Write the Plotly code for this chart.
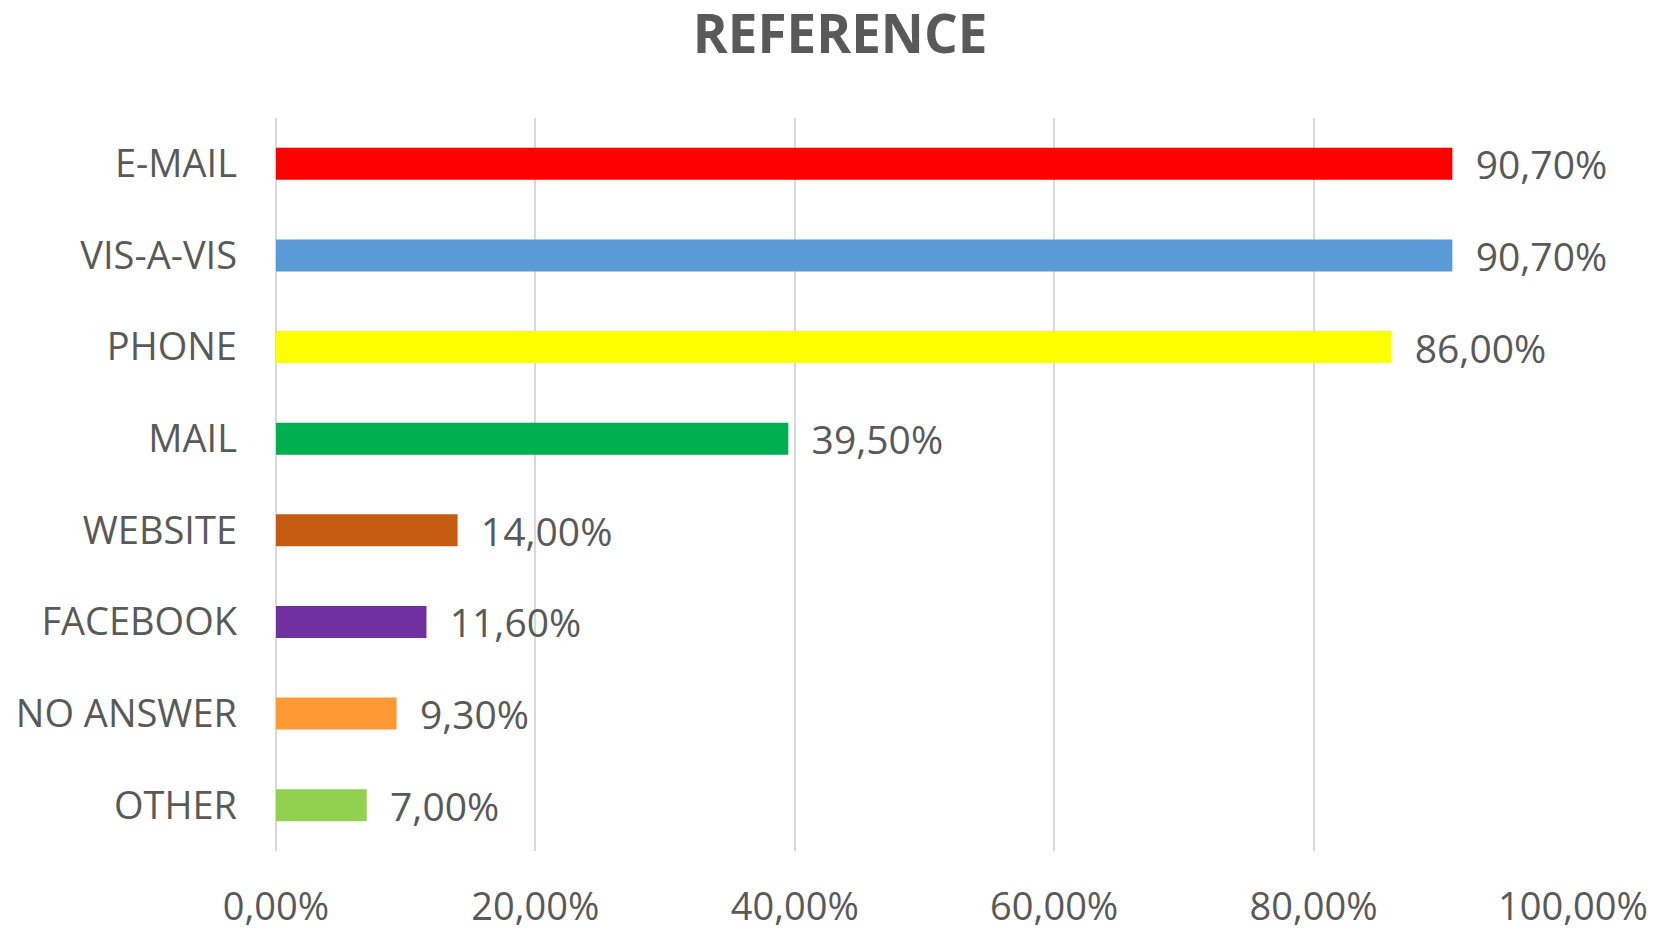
import plotly.graph_objects as go

categories = ["E-MAIL", "VIS-A-VIS", "PHONE", "MAIL", "WEBSITE", "FACEBOOK", "NO ANSWER", "OTHER"]
values = [90.7, 90.7, 86.0, 39.5, 14.0, 11.6, 9.3, 7.0]
colors = ["#FF0000", "#5B9BD5", "#FFFF00", "#00B050", "#C55A11", "#7030A0", "#FF9933", "#92D050"]
tick_vals = [0, 20, 40, 60, 80, 100]

text_color = "#595959"
font_family = "Open Sans, Noto Sans, sans-serif"


def pct(v):
    # Excel style with decimal comma, e.g. 90,70%
    return f"{v:.2f}".replace(".", ",") + "%"


# small gap between bar end and its label
labels = ["\u00a0\u00a0" + pct(v) for v in values]
tick_text = [pct(v) for v in tick_vals]

fig = go.Figure()
fig.add_trace(go.Bar(
    x=values, y=categories,
    orientation="h",
    marker=dict(color=colors, line=dict(width=0)),
    text=labels,
    textposition="outside",
    textfont=dict(size=39, color=text_color, family=font_family),
    constraintext="none",
    cliponaxis=False,
    width=0.35,
    hoverinfo="x+y",
))

fig.update_layout(
    width=1657, height=930,
    paper_bgcolor="white",
    plot_bgcolor="white",
    title=dict(
        text="<b>REFERENCE</b>",
        x=0.507, xanchor="center",
        y=0.963, yanchor="middle",
        font=dict(size=53, color=text_color, family=font_family),
    ),
    margin=dict(l=276, r=84, t=118, b=79),
    showlegend=False,
    font=dict(family=font_family, color=text_color),
)

fig.update_xaxes(
    range=[0, 100],
    tickmode="array",
    tickvals=tick_vals,
    ticktext=tick_text,
    showgrid=True,
    gridcolor="#D9D9D9",
    gridwidth=1.5,
    zeroline=True,
    zerolinecolor="#D9D9D9",
    zerolinewidth=1.5,
    showline=False,
    automargin=False,
    ticklabelstandoff=30,
    tickfont=dict(size=38, color=text_color, family=font_family),
    fixedrange=True,
)

fig.update_yaxes(
    autorange="reversed",
    showgrid=False,
    showline=False,
    automargin=False,
    ticklabelstandoff=38,
    tickfont=dict(size=38, color=text_color, family=font_family),
    fixedrange=True,
)

# drop the default body margin so the figure sits at the window's corner
fig.write_html(
    "out.html",
    config=dict(displayModeBar=False),
    post_script="document.body.style.margin='0';",
)
